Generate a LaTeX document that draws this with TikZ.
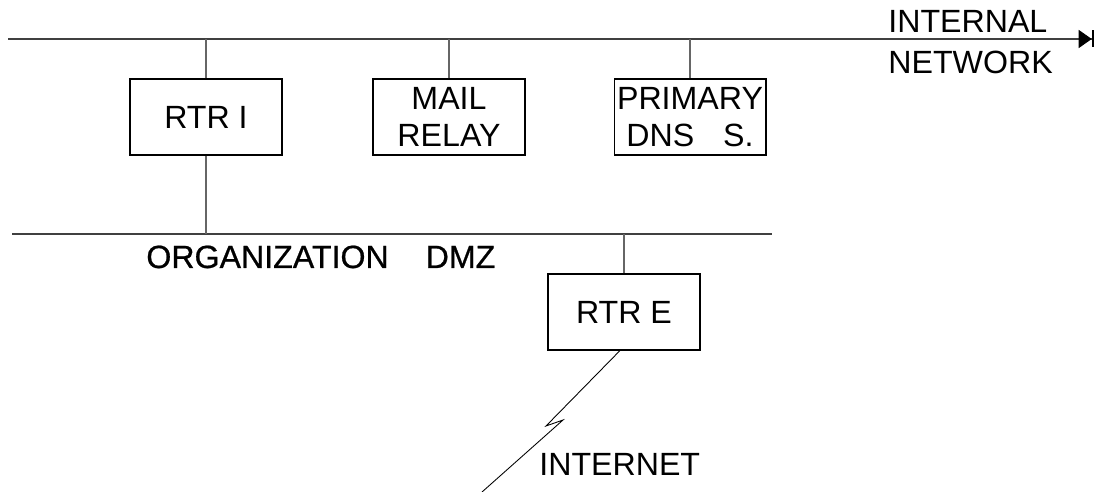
\documentclass[tikz,border=0pt]{standalone}
\usepackage{fontspec}
\setmainfont{Liberation Sans}
\newfontfamily\heavyfont{Liberation Sans}[FakeBold=0.7]
\usetikzlibrary{positioning, arrows.meta}

\begin{document}
\begin{tikzpicture}[x=0.02cm, y=-0.02cm,
    % Styles
    host/.style={draw=black, line width=0.6pt, minimum width=3.04cm, minimum height=1.52cm, inner sep=0pt, align=center, font=\fontsize{18.3pt}{21.4pt}\selectfont},
    bus/.style={draw=black!75, line width=0.6pt},
    tap/.style={draw=black!60, line width=0.6pt},
    label/.style={inner sep=0pt, font=\fontsize{18.3pt}{23.8pt}\selectfont},
]
\useasboundingbox (0,0) rectangle (1097,492);

% Internal network bus
\coordinate (int-w) at (8,39);
\coordinate (int-e) at (1094,39);
\draw[bus, -{Triangle[length=0.26cm, width=0.36cm, black] Bar[width=0.34cm, line width=1.3pt, black]}] (int-w) -- (int-e);
\node[label, anchor=base west, align=left] (int-label) at (888,74) {INTERNAL\\NETWORK};

% Hosts on the internal network
\node[host] (rtr-i) at (206,117) {RTR I};
\node[host] (mail) at (449,117) {MAIL\\RELAY};
\node[host] (dns) at (690,117) {PRIMARY\\DNS\hspace{0.9em}S.};

\draw[tap] (rtr-i.north) -- (rtr-i.north |- int-w);
\draw[tap] (mail.north) -- (mail.north |- int-w);
\draw[tap] (dns.north) -- (dns.north |- int-w);

% DMZ bus
\coordinate (dmz-w) at (12,234);
\coordinate (dmz-e) at (772,234);
\draw[bus] (dmz-w) -- (dmz-e);
\node[label, anchor=base west, font=\heavyfont\fontsize{18.3pt}{23.8pt}\selectfont] (dmz-label) at (146,268) {ORGANIZATION\hspace{1.15em}DMZ};

\draw[tap] (rtr-i.south) -- (rtr-i.south |- dmz-w);

% External router
\node[host] (rtr-e) at (624,312) {RTR E};
\draw[tap] (rtr-e.north) -- (rtr-e.north |- dmz-w);

% Link to the internet
\coordinate (zig-a) at (546,426);
\coordinate (zig-b) at (563,420);
\coordinate (inet) at (482,492);
\draw[black, line width=0.5pt] ([xshift=-0.08cm]rtr-e.south) -- (zig-a) -- (zig-b) -- (inet);
\node[label, anchor=base west] (inet-label) at (539,475) {INTERNET};

\end{tikzpicture}
\end{document}
